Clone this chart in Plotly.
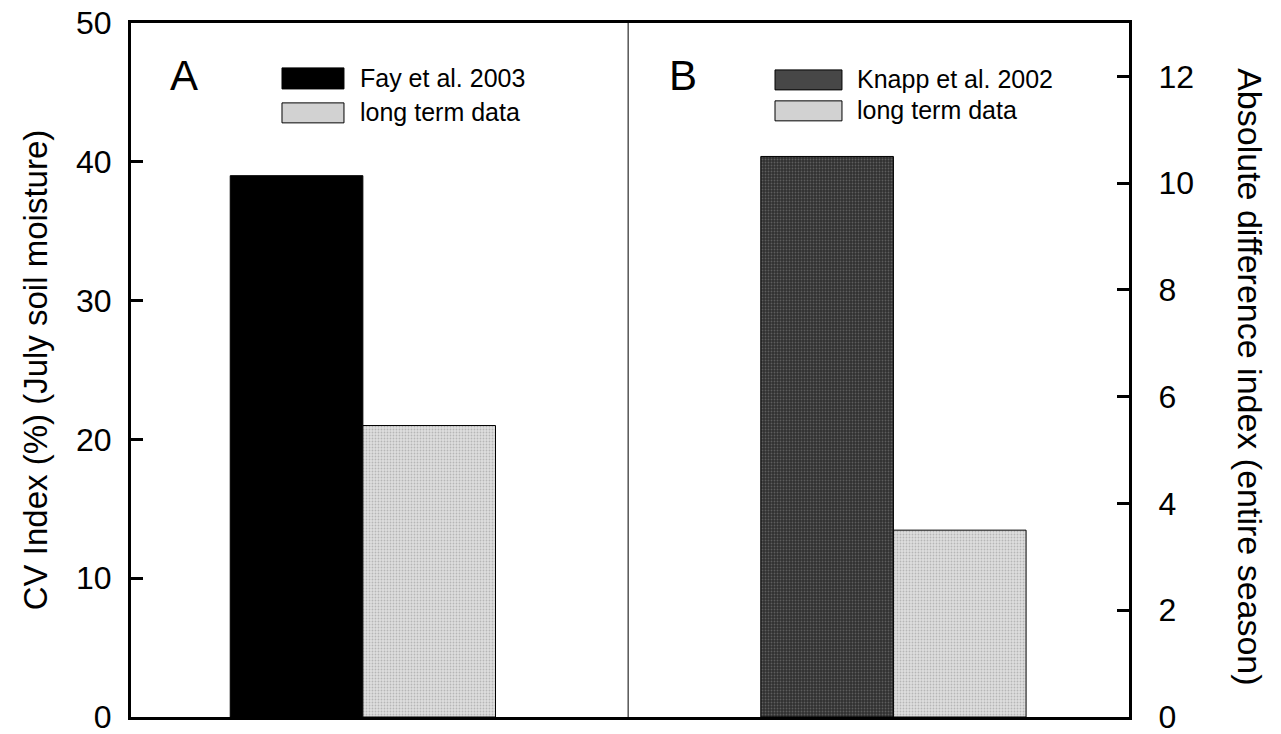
import plotly.graph_objects as go

# Panel categories and the bar values
panels = ["A", "B"]
study_labels = ["Fay et al. 2003", "Knapp et al. 2002"]
longterm_label = "long term data"

cv_fay = [39.0]          # CV index (%) July soil moisture, panel A
cv_longterm = [21.0]
adi_knapp = [10.5]       # absolute difference index, panel B
adi_longterm = [3.5]

left_ticks = [0, 10, 20, 30, 40, 50]
right_ticks = [0, 2, 4, 6, 8, 10, 12]

FONT = "Liberation Sans, Arial, sans-serif"
BLACK = "#000000"
LIGHT = "#d2d2d2"
DARK = "#474747"

light_pattern = dict(shape=".", bgcolor="#dedede", fgcolor="#8e8e8e", size=3, solidity=0.3)
dark_pattern = dict(shape=".", bgcolor="#303030", fgcolor="#8a8a8a", size=3, solidity=0.3)

fig = go.Figure()

fig.add_trace(go.Bar(
    x=[panels[0]], y=cv_fay, name=study_labels[0], offsetgroup="study",
    marker=dict(color=BLACK, line=dict(color="black", width=1)),
    yaxis="y", showlegend=False))
fig.add_trace(go.Bar(
    x=[panels[0]], y=cv_longterm, name=longterm_label, offsetgroup="longterm",
    marker=dict(color=LIGHT, line=dict(color="black", width=1), pattern=light_pattern),
    yaxis="y", showlegend=False))
fig.add_trace(go.Bar(
    x=[panels[1]], y=adi_knapp, name=study_labels[1], offsetgroup="study",
    marker=dict(color=DARK, line=dict(color="black", width=1), pattern=dark_pattern),
    yaxis="y2", showlegend=False))
fig.add_trace(go.Bar(
    x=[panels[1]], y=adi_longterm, name=longterm_label, offsetgroup="longterm",
    marker=dict(color=LIGHT, line=dict(color="black", width=1), pattern=light_pattern),
    yaxis="y2", showlegend=False))

fig.update_layout(
    width=1281, height=734,
    margin=dict(l=131, r=152, t=23, b=17, autoexpand=False),
    paper_bgcolor="white", plot_bgcolor="white",
    font=dict(family=FONT, color="black", size=32),
    barmode="group", bargap=0.5, bargroupgap=0,
    xaxis=dict(type="category", categoryorder="array", categoryarray=panels,
               range=[-0.437, 1.444], showticklabels=False, ticks="",
               showgrid=False, zeroline=False, automargin=False,
               showline=True, linecolor="black", linewidth=3, mirror=True),
    yaxis=dict(range=[0, 50], tickvals=left_ticks, ticks="inside", ticklen=12,
               tickwidth=2.5, tickcolor="black", showgrid=False, zeroline=False,
               showline=True, linecolor="black", linewidth=3, automargin=False,
               tickfont=dict(size=32), ticklabelstandoff=10,
               ticklabeloverflow="allow",
               title=dict(text="CV Index (%) (July soil moisture)",
                          font=dict(size=33), standoff=19)),
    yaxis2=dict(range=[0, 13], tickvals=right_ticks, overlaying="y", side="right",
                ticks="inside", ticklen=12, tickwidth=2.5, tickcolor="black",
                showgrid=False, zeroline=False, showline=True, linecolor="black",
                linewidth=3, automargin=False, tickfont=dict(size=32),
                ticklabelstandoff=20, ticklabeloverflow="allow"),
)

# panel divider
fig.add_shape(type="line", xref="x", yref="y domain", x0=0.5, x1=0.5, y0=0, y1=1,
              line=dict(color="black", width=1))

# right axis title reads top-to-bottom
fig.add_annotation(text="Absolute difference index (entire season)", xref="paper",
                   yref="paper", x=1.121, y=0.49, textangle=90, showarrow=False,
                   font=dict(size=34), xanchor="center", yanchor="middle")

# panel letters
for letter, xpos in zip(panels, [0.037, 0.537]):
    fig.add_annotation(text=letter, xref="x domain", yref="y domain", x=xpos, y=0.925,
                       xanchor="left", yanchor="middle", showarrow=False,
                       font=dict(size=42))

# in-panel legends
legend_rows = [
    (0.1513, 0.2134, 0.905, 0.9353, BLACK, study_labels[0], 0.2275, 0.921),
    (0.1513, 0.2134, 0.8561, 0.8849, LIGHT, longterm_label, 0.2275, 0.872),
    (0.6453, 0.7124, 0.9036, 0.9324, DARK, study_labels[1], 0.7255, 0.919),
    (0.6453, 0.7124, 0.859, 0.8878, LIGHT, longterm_label, 0.7255, 0.874),
]
for x0, x1, y0, y1, color, label, tx, ty in legend_rows:
    fig.add_shape(type="rect", xref="x domain", yref="y domain",
                  x0=x0, x1=x1, y0=y0, y1=y1, fillcolor=color,
                  line=dict(color="black", width=1))
    fig.add_annotation(text=label, xref="x domain", yref="y domain", x=tx, y=ty,
                       xanchor="left", yanchor="middle", showarrow=False,
                       font=dict(size=25))

fig.write_html("out.html")
